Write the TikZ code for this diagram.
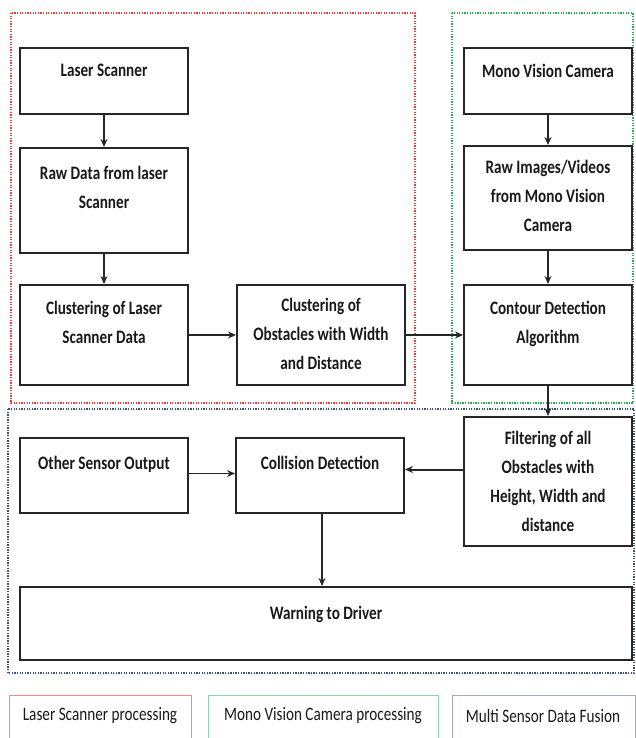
\documentclass[tikz,border=0pt]{standalone}
\usepackage{fontspec}
\setmainfont{Carlito}
\newfontfamily\boxfont[FakeStretch=0.8]{Carlito Bold}
\newfontfamily\legfont[FakeStretch=0.8]{Carlito}
\usetikzlibrary{arrows.meta}
\definecolor{redgrp}{RGB}{235,60,60}
\definecolor{greengrp}{RGB}{40,170,80}
\definecolor{bluegrp}{RGB}{60,80,125}
\definecolor{redleg}{RGB}{245,140,140}
\definecolor{greenleg}{RGB}{140,215,170}
\definecolor{blueleg}{RGB}{160,170,195}
\tikzset{
  x=1pt, y=-1pt,
  blk/.style={draw=black!85, line width=2pt, rectangle, inner sep=0pt, anchor=north west},
  txt/.style={font=\boxfont\fontsize{19}{29}\selectfont, align=center, anchor=north, inner sep=0pt, text=black!90},
  grp/.style={line width=1.8pt, dash pattern=on 1.3pt off 1.3pt},
  leg/.style={line width=1.3pt},
  legtxt/.style={font=\legfont\fontsize{19}{24}\selectfont, inner sep=0pt, text=black!90},
  arr/.style={-{Stealth[length=8pt,width=7pt]}, line width=1.6pt, draw=black!85},
}
\begin{document}
\begin{tikzpicture}
\useasboundingbox (0,0) rectangle (636,738);
% group frames
\draw[grp, redgrp] (11,13) rectangle (415,403);
\draw[grp, greengrp] (452,13) rectangle (633,403);
\draw[grp, bluegrp] (8,409) rectangle (634,673);
% boxes
\node[blk, minimum width=168pt, minimum height=66pt] (ls) at (19,47) {};
\node[blk, minimum width=168pt, minimum height=105pt] (rd) at (19,147) {};
\node[blk, minimum width=168pt, minimum height=100pt] (cl) at (19,284) {};
\node[blk, minimum width=168pt, minimum height=100pt] (co) at (236,284) {};
\node[blk, minimum width=168pt, minimum height=66pt] (mv) at (463,47) {};
\node[blk, minimum width=168pt, minimum height=104pt] (ri) at (463,145) {};
\node[blk, minimum width=168pt, minimum height=100pt] (ct) at (463,284) {};
\node[blk, minimum width=168pt, minimum height=129pt] (fl) at (463,416) {};
\node[blk, minimum width=168pt, minimum height=75pt] (os) at (19,437) {};
\node[blk, minimum width=168pt, minimum height=75pt] (cd) at (235,437) {};
\node[blk, minimum width=612pt, minimum height=73pt] (wd) at (19,586) {};
% texts
\node[txt] (lst) at ([yshift=-17pt]ls.north) {Laser Scanner};
\node[txt] (rdt) at ([yshift=-19pt]rd.north) {Raw Data from laser\\Scanner};
\node[txt] (clt) at ([yshift=-17pt]cl.north) {Clustering of Laser\\Scanner Data};
\node[txt] (cot) at ([yshift=-14pt]co.north) {Clustering of\\Obstacles with Width\\and Distance};
\node[txt] (mvt) at ([yshift=-17pt]mv.north) {Mono Vision Camera};
\node[txt] (rit) at ([yshift=-15pt]ri.north) {Raw Images/Videos\\from Mono Vision\\Camera};
\node[txt] (ctt) at ([yshift=-17pt]ct.north) {Contour Detection\\Algorithm};
\node[txt] (flt) at ([yshift=-15pt]fl.north) {Filtering of all\\Obstacles with\\Height, Width and\\distance};
\node[txt] (ost) at ([yshift=-19pt]os.north) {Other Sensor Output};
\node[txt] (cdt) at ([yshift=-19pt]cd.north) {Collision Detection};
\node[txt] (wdt) at ([yshift=-20pt]wd.north) {Warning to Driver};
% arrows
\draw[arr] (ls.south) -- (rd.north);
\draw[arr] (rd.south) -- (cl.north);
\draw[arr, line width=2pt] (cl.east) -- (co.west);
\draw[arr, line width=2pt] (co.east) -- (ct.west);
\draw[arr] (mv.south) -- (ri.north);
\draw[arr] (ri.south) -- (ct.north);
\draw[arr] (ct.south) -- (fl.north);
\draw[arr, line width=2pt] ([yshift=6pt]fl.west |- cd.east) -- ([yshift=6pt]cd.east);
\draw[arr] ([yshift=2pt]os.east) -- ([yshift=2pt]cd.west);
\draw[arr] ([xshift=2pt]cd.south) -- ([xshift=2pt]cd.south |- wd.north);
% legend
\node[draw=redleg, leg, minimum width=182pt, minimum height=60pt, anchor=north west, inner sep=0pt] (l1) at (9,695) {};
\node[draw=greenleg, leg, minimum width=230pt, minimum height=60pt, anchor=north west, inner sep=0pt] (l2) at (208,695) {};
\node[draw=blueleg, leg, minimum width=183pt, minimum height=60pt, anchor=north west, inner sep=0pt] (l3) at (452,695) {};
\node[legtxt] (l1t) at (100,716) {Laser Scanner processing};
\node[legtxt] (l2t) at (323,716) {Mono Vision Camera processing};
\node[legtxt] (l3t) at (543,716) {Multi Sensor Data Fusion};
\end{tikzpicture}
\end{document}
